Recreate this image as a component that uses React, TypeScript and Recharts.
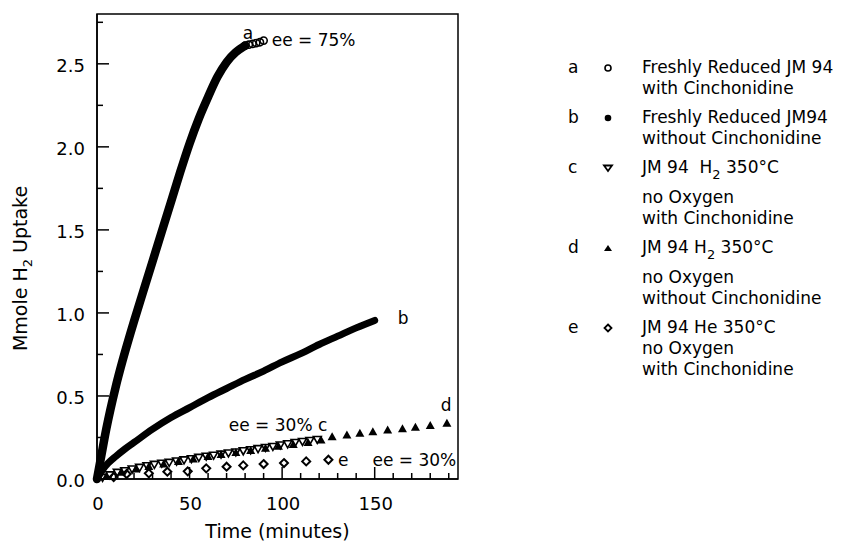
import {
    ComposedChart,
    Line,
    Scatter,
    XAxis,
    YAxis,
    ReferenceArea,
    ReferenceDot,
} from "recharts";

// a: freshly reduced JM 94 with cinchonidine (dense open circles, drawn as a thick band)
const aTime = [0, 2, 5, 10, 14, 20, 25, 30, 35, 40, 45, 50, 55, 60, 65, 70, 75, 80];
const aUptake = [0, 0.12, 0.3, 0.55, 0.72, 0.95, 1.13, 1.31, 1.49, 1.67, 1.85, 2.02, 2.17, 2.3, 2.42, 2.51, 2.57, 2.61];
const aTailTime = [80, 82, 84, 86, 88, 90];
const aTailUptake = [2.61, 2.615, 2.62, 2.625, 2.63, 2.64];

// b: freshly reduced JM94 without cinchonidine
const bTime = [0, 3, 6, 10, 15, 20, 30, 40, 50, 60, 70, 80, 90, 100, 110, 120, 130, 140, 150];
const bUptake = [0, 0.055, 0.095, 0.135, 0.18, 0.22, 0.3, 0.37, 0.43, 0.49, 0.545, 0.6, 0.65, 0.705, 0.755, 0.81, 0.86, 0.91, 0.955];

// c: JM 94 H2 350°C, no oxygen, with cinchonidine
const cTime = [3, 7, 11, 15, 19, 23, 27, 31, 35, 39, 43, 47, 51, 55, 59, 63, 67, 71, 75, 79, 83, 87, 91, 95, 99, 103, 107, 111, 115, 119];
const cUptake = [0.01, 0.025, 0.04, 0.05, 0.06, 0.07, 0.08, 0.088, 0.095, 0.1, 0.108, 0.115, 0.122, 0.13, 0.137, 0.143, 0.15, 0.157, 0.163, 0.17, 0.176, 0.183, 0.19, 0.196, 0.205, 0.212, 0.22, 0.226, 0.232, 0.238];

// d: JM 94 H2 350°C, no oxygen, without cinchonidine
const dTime = [5, 13, 21, 28, 36, 44, 52, 60, 67, 75, 83, 91, 98, 106, 114, 121, 127, 135, 142, 149, 157, 165, 172, 180, 189];
const dUptake = [0.015, 0.04, 0.06, 0.075, 0.09, 0.105, 0.12, 0.135, 0.148, 0.16, 0.172, 0.185, 0.197, 0.208, 0.22, 0.235, 0.255, 0.265, 0.275, 0.285, 0.295, 0.303, 0.312, 0.322, 0.335];

// e: JM 94 He 350°C, no oxygen, with cinchonidine
const eTime = [9, 16, 28, 38, 49, 59, 70, 79, 90, 101, 113, 125];
const eUptake = [0.012, 0.03, 0.034, 0.044, 0.046, 0.064, 0.074, 0.082, 0.09, 0.096, 0.106, 0.116];

const xTicks = [0, 10, 20, 30, 40, 50, 60, 70, 80, 90, 100, 110, 120, 130, 140, 150, 160, 170, 180, 190];
const yTicks = [0, 0.25, 0.5, 0.75, 1, 1.25, 1.5, 1.75, 2, 2.25, 2.5, 2.75];

const noteText = ["a", "ee = 75%", "b", "ee = 30% c", "d", "e", "ee = 30%"];
const noteTime = [81.6, 117, 165.4, 97.8, 188.6, 133, 171.4];
const noteUptake = [2.687, 2.645, 0.97, 0.325, 0.446, 0.114, 0.114];

const legendKeys = ["a", "b", "c", "d", "e"];
const legendLines = [
    ["Freshly Reduced JM 94", "with Cinchonidine"],
    ["Freshly Reduced JM94", "without Cinchonidine"],
    ["JM 94  H₂ 350°C", "no Oxygen", "with Cinchonidine"],
    ["JM 94 H₂ 350°C", "no Oxygen", "without Cinchonidine"],
    ["JM 94 He 350°C", "no Oxygen", "with Cinchonidine"],
];

const toPoints = (t: number[], v: number[]) => t.map((x, i) => ({ t: x, v: v[i] }));

const FONT = "'DejaVu Sans', 'Liberation Sans', sans-serif";

const OpenCircle = ({ cx, cy }: any) => (
    <circle cx={cx} cy={cy} r={3.6} fill="none" stroke="#000" strokeWidth={1.6} />
);
const DownTriangle = ({ cx, cy }: any) => (
    <polygon points={`${cx - 4},${cy - 3} ${cx + 4},${cy - 3} ${cx},${cy + 4}`} fill="none" stroke="#000" strokeWidth={1.6} />
);
const UpTriangle = ({ cx, cy }: any) => (
    <polygon points={`${cx - 4.5},${cy + 3.5} ${cx + 4.5},${cy + 3.5} ${cx},${cy - 4.5}`} fill="#000" />
);
const Diamond = ({ cx, cy }: any) => (
    <polygon points={`${cx},${cy - 4} ${cx + 4},${cy} ${cx},${cy + 4} ${cx - 4},${cy}`} fill="none" stroke="#000" strokeWidth={2} />
);

const XTick = ({ x, y, payload }: any) => {
    const major = payload.value % 50 === 0;
    return (
        <g>
            <line x1={x} x2={x} y1={y} y2={y - (major ? 12 : 6)} stroke="#000" strokeWidth={1.5} />
            {major && (
                <text x={x + 1} y={y + 31} textAnchor="middle" fontSize={18} fill="#000">
                    {payload.value}
                </text>
            )}
        </g>
    );
};

const YTick = ({ x, y, payload }: any) => {
    const major = Math.abs(payload.value * 2 - Math.round(payload.value * 2)) < 1e-6;
    return (
        <g>
            <line x1={x} x2={x + (major ? 12 : 6)} y1={y} y2={y} stroke="#000" strokeWidth={1.5} />
            {major && (
                <text x={x - 12} y={y + 8} textAnchor="end" fontSize={18} fill="#000">
                    {payload.value.toFixed(1)}
                </text>
            )}
        </g>
    );
};

const XTitle = ({ viewBox }: any) => (
    <text x={viewBox.x + viewBox.width / 2} y={viewBox.y + 59} textAnchor="middle" fontSize={19} fill="#000">
        Time (minutes)
    </text>
);

const YTitle = ({ viewBox }: any) => {
    const x = viewBox.x - 10;
    const y = viewBox.y + viewBox.height / 2 + 22;
    return (
        <text x={x} y={y} transform={`rotate(-90, ${x}, ${y})`} textAnchor="middle" fontSize={19} fill="#000">
            Mmole H
            <tspan dy={5} fontSize={13}>2</tspan>
            <tspan dy={-5}> Uptake</tspan>
        </text>
    );
};

const LegendMark = ({ k }: { k: string }) => {
    const s = (
        {
            a: <circle cx={6} cy={6} r={3} fill="none" stroke="#000" strokeWidth={1.6} />,
            b: <circle cx={6} cy={6} r={3.3} fill="#000" />,
            c: <polygon points="2,3.5 10,3.5 6,9" fill="none" stroke="#000" strokeWidth={1.8} />,
            d: <polygon points="2,9 10,9 6,3" fill="#000" />,
            e: <polygon points="6,2.5 9.5,6 6,9.5 2.5,6" fill="none" stroke="#000" strokeWidth={1.8} />,
        } as Record<string, any>
    )[k];
    return (
        <svg width={12} height={12} style={{ display: "block" }}>
            {s}
        </svg>
    );
};

const renderLine = (line: string) => {
    const i = line.indexOf("₂");
    if (i < 0) return line;
    return (
        <>
            {line.slice(0, i)}
            <span style={{ position: "relative", top: 6, fontSize: 13 }}>2</span>
            {line.slice(i + 1)}
        </>
    );
};

const Legend = () => (
    <div style={{ position: "absolute", left: 568, top: 57, fontSize: 17, color: "#000", fontFamily: FONT }}>
        {legendKeys.map((k, i) => (
            <div key={k} style={{ display: "flex", marginBottom: 8 }}>
                <div style={{ width: 34, lineHeight: "21px" }}>{k}</div>
                <div style={{ width: 40, height: 21, display: "flex", alignItems: "center" }}>
                    <LegendMark k={k} />
                </div>
                <div>
                    {legendLines[i].map((ln) => (
                        <div
                            key={ln}
                            style={{
                                lineHeight: "21px",
                                whiteSpace: "pre",
                                paddingBottom: ln.includes("₂") ? 8 : 0,
                            }}
                        >
                            {renderLine(ln)}
                        </div>
                    ))}
                </div>
            </div>
        ))}
    </div>
);

export default function App() {
    return (
        <div
            style={{
                position: "absolute",
                left: 0,
                top: 0,
                width: 853,
                height: 553,
                background: "#fff",
                fontFamily: FONT,
            }}
        >
            <ComposedChart width={853} height={553} margin={{ top: 14, right: 395, bottom: 24, left: 37 }}>
                <XAxis
                    type="number"
                    dataKey="t"
                    domain={[0, 195]}
                    ticks={xTicks}
                    interval={0}
                    height={50}
                    tickSize={0}
                    tickMargin={0}
                    tickLine={false}
                    tick={<XTick />}
                    axisLine={{ stroke: "#000", strokeWidth: 1.5 }}
                    label={<XTitle />}
                />
                <YAxis
                    type="number"
                    dataKey="v"
                    domain={[0, 2.8]}
                    ticks={yTicks}
                    interval={0}
                    width={60}
                    tickSize={0}
                    tickMargin={0}
                    tickLine={false}
                    tick={<YTick />}
                    axisLine={{ stroke: "#000", strokeWidth: 1.5 }}
                    label={<YTitle />}
                />
                <ReferenceArea x1={0} x2={195} y1={0} y2={2.8} fill="none" stroke="#000" strokeWidth={1.5} />
                <Line
                    data={toPoints(aTime, aUptake)}
                    dataKey="v"
                    type="monotone"
                    stroke="#000"
                    strokeWidth={8.5}
                    strokeLinecap="round"
                    dot={false}
                    activeDot={false}
                    isAnimationActive={false}
                />
                <Scatter data={toPoints(aTailTime, aTailUptake)} dataKey="v" shape={<OpenCircle />} isAnimationActive={false} />
                <Line
                    data={toPoints(bTime, bUptake)}
                    dataKey="v"
                    type="monotone"
                    stroke="#000"
                    strokeWidth={7}
                    strokeLinecap="round"
                    dot={false}
                    activeDot={false}
                    isAnimationActive={false}
                />
                <Scatter data={toPoints(cTime, cUptake)} dataKey="v" shape={<DownTriangle />} isAnimationActive={false} />
                <Scatter data={toPoints(dTime, dUptake)} dataKey="v" shape={<UpTriangle />} isAnimationActive={false} />
                <Scatter data={toPoints(eTime, eUptake)} dataKey="v" shape={<Diamond />} isAnimationActive={false} />
                {noteText.map((txt, i) => (
                    <ReferenceDot
                        key={txt + i}
                        x={noteTime[i]}
                        y={noteUptake[i]}
                        r={0}
                        fill="none"
                        stroke="none"
                        ifOverflow="visible"
                        label={{ value: txt, position: "center", fill: "#000", fontSize: 17 }}
                    />
                ))}
            </ComposedChart>
            <Legend />
        </div>
    );
}
